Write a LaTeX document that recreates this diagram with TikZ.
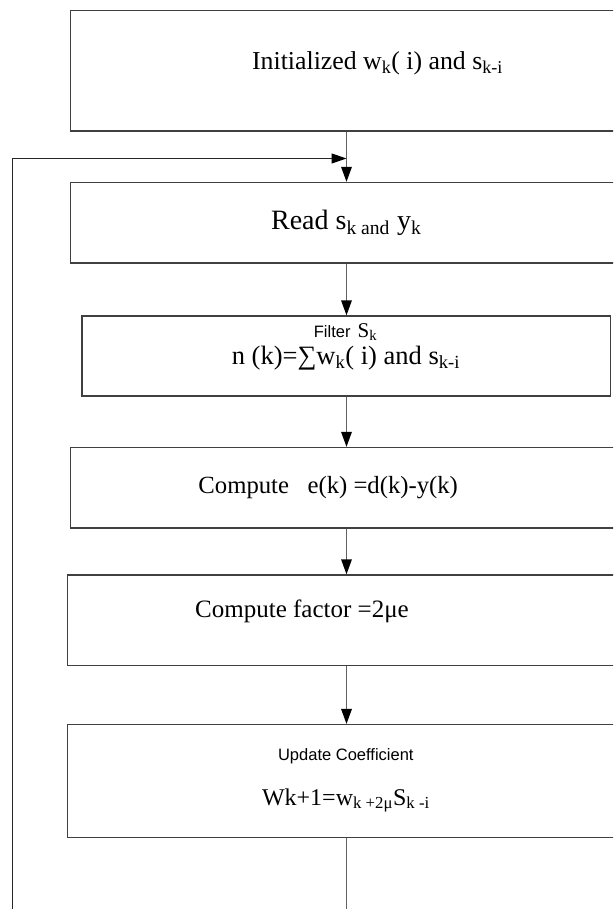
\documentclass[tikz,border=0pt]{standalone}
\usepackage{fontspec}
\setmainfont{Liberation Serif}
\newfontfamily\arialf{Liberation Sans}
\usetikzlibrary{arrows.meta,fit}
\newcommand{\fsz}[1]{\fontsize{#1}{#1}\selectfont}
\begin{document}
\begin{tikzpicture}[x=1pt,y=-1pt,
  box/.style={draw=black!75,line width=1.3pt,inner sep=0pt,fill=none},
  conn/.style={draw=black!62,line width=1.6pt,-{Triangle[length=15pt,width=10.5pt,color=black]}},
  plainconn/.style={draw=black!62,line width=1.6pt},
  backline/.style={draw=black!85,line width=1.1pt},
  txt/.style={anchor=base,inner sep=0pt}]
\useasboundingbox (0,0) rectangle (613,909);
\begin{scope}
\clip (0,0) rectangle (613,909);
% boxes
\node[box,fit={(70.5,10.4) (660,131)}] (b1) {};
\node[box,fit={(70.5,182.5) (660,263)}] (b2) {};
\node[box,fit={(82,316) (610.6,396)}] (b3) {};
\node[box,fit={(70.5,447.5) (660,528)}] (b4) {};
\node[box,fit={(67.6,575) (660,665.5)}] (b5) {};
\node[box,fit={(67.6,724.6) (660,837.7)}] (b6) {};
% texts
\node[txt] (t1) at (377.5,69.3) {\fsz{25.8}Initialized w\textsubscript{k}( i) and s\textsubscript{k-i}};
\node[txt] (t2) at (346.2,229.3) {\fsz{28}Read s\textsubscript{k and} y\textsubscript{k}};
\node[txt] (t3) at (345.5,337) {{\arialf\fsz{16.5}Filter}\hspace{7pt}{\fsz{21}S\textsubscript{k}}};
\node[txt] (t4) at (345.9,364) {\fsz{26.5}n (k)=∑w\textsubscript{k}( i) and s\textsubscript{k-i}};
\node[txt] (t5) at (328.2,493) {\fsz{24.7}Compute\ \ \ e(k) =d(k)-y(k)};
\node[txt] (t6) at (302,617) {\fsz{25}Compute factor =2μe};
\node[txt] (t7) at (345.8,760) {\arialf\fsz{16.5}Update Coefficient};
\node[txt] (t8) at (345.9,805) {\fsz{24}Wk+1=w\textsubscript{k +2μ}S\textsubscript{k -i}};
% connectors
\coordinate (ax) at (346.5,0);
\coordinate (lb) at (346.5,930);
\coordinate (ll) at (12.5,930);
\coordinate (lt) at (12.5,158.5);
\coordinate (lj) at (346.5,158.5);
\draw[conn] (b1.south -| ax) -- (b2.north -| ax);
\draw[conn] (b2.south -| ax) -- (b3.north -| ax);
\draw[conn] (b3.south -| ax) -- (b4.north -| ax);
\draw[conn] (b4.south -| ax) -- (b5.north -| ax);
\draw[conn] (b5.south -| ax) -- (b6.north -| ax);
\draw[plainconn] (b6.south -| ax) -- (lb);
\draw[backline,-{Triangle[length=15pt,width=10pt,color=black]}] (ll) -- (lt) -- (lj);
\end{scope}
\end{tikzpicture}
\end{document}
